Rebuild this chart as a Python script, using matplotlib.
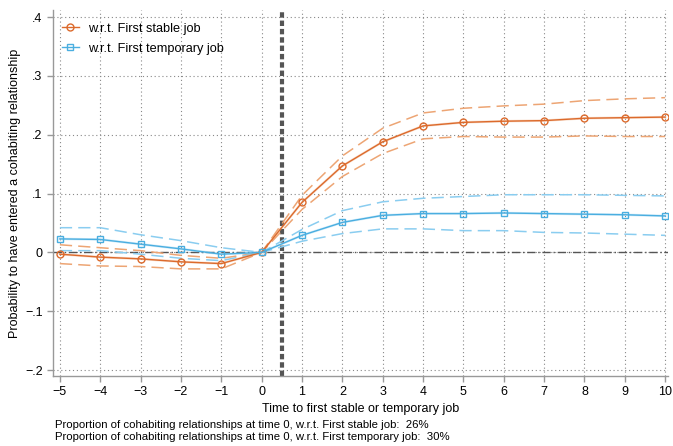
import matplotlib.pyplot as plt

plt.rcParams['font.family'] = ['Liberation Sans', 'DejaVu Sans']

# time to first job
t = [-5, -4, -3, -2, -1, 0, 1, 2, 3, 4, 5, 6, 7, 8, 9, 10]

# w.r.t. first stable job
stable = [-0.003, -0.008, -0.011, -0.016, -0.019, 0.0, 0.085, 0.147, 0.188, 0.215,
          0.221, 0.223, 0.224, 0.228, 0.229, 0.230]
stable_hi = [0.013, 0.008, 0.003, -0.005, -0.010, 0.0, 0.097, 0.164, 0.211, 0.237,
             0.245, 0.249, 0.252, 0.258, 0.261, 0.263]
stable_lo = [-0.019, -0.023, -0.024, -0.028, -0.028, 0.0, 0.073, 0.129, 0.168, 0.193,
             0.197, 0.196, 0.196, 0.198, 0.197, 0.197]

# w.r.t. first temporary job
temp = [0.023, 0.022, 0.014, 0.006, -0.003, 0.0, 0.029, 0.051, 0.063, 0.066,
        0.066, 0.067, 0.066, 0.065, 0.064, 0.062]
temp_hi = [0.042, 0.042, 0.030, 0.020, 0.008, 0.0, 0.039, 0.071, 0.086, 0.092,
           0.095, 0.098, 0.098, 0.098, 0.097, 0.096]
temp_lo = [0.003, 0.003, -0.003, -0.010, -0.014, 0.0, 0.019, 0.032, 0.040, 0.040,
           0.037, 0.037, 0.034, 0.033, 0.031, 0.029]

share_stable = 26
share_temp = 30

orange = '#DC6A2C'
orange_l = '#EDA574'
blue = '#4AAEE0'
blue_l = '#8ACDF0'

fig = plt.figure(figsize=(6.73, 4.46), dpi=100)
ax = fig.add_axes([0.0788, 0.157, 0.9138, 0.8206])

# grid
for yv in [-0.2, -0.1, 0.0, 0.1, 0.2, 0.3, 0.4]:
    ax.axhline(yv, color='#888888', lw=0.8, ls=(0, (1, 2.5)), zorder=0)
for xv in t:
    ax.axvline(xv, color='#888888', lw=0.8, ls=(0, (1, 2.5)), zorder=0)

# reference lines
ax.axhline(0, color='#555555', lw=1.0, ls=(0, (6, 2, 1, 2)), zorder=1)
ax.axvline(0.5, color='#555555', lw=3.0, ls=(0, (1.3, 0.7)), zorder=1)

# confidence bands
ax.plot(t, stable_hi, color=orange_l, lw=1.1, ls=(0, (8, 4)), zorder=2)
ax.plot(t, stable_lo, color=orange_l, lw=1.1, ls=(0, (8, 4)), zorder=2)
ax.plot(t, temp_hi, color=blue_l, lw=1.1, ls=(0, (8, 4)), zorder=2)
ax.plot(t, temp_lo, color=blue_l, lw=1.1, ls=(0, (8, 4)), zorder=2)

# point estimates
ax.plot(t, stable, color=orange_l, lw=1.8, alpha=0.35, zorder=3)
ax.plot(t, temp, color=blue_l, lw=1.8, alpha=0.35, zorder=3)
ax.plot(t, stable, color=orange, lw=1.0, marker='o', ms=5, mfc='none', mew=1.0,
        label='w.r.t. First stable job', zorder=4)
ax.plot(t, temp, color=blue, lw=1.0, marker='s', ms=4.5, mfc='none', mew=1.0,
        label='w.r.t. First temporary job', zorder=4)

ax.set_xlim(-5.17, 10.07)
ax.set_ylim(-0.21, 0.412)
ax.set_xticks(t)
ax.set_xticklabels([str(v).replace('-', '\u2212') for v in t])
yt = [-0.2, -0.1, 0.0, 0.1, 0.2, 0.3, 0.4]
ax.set_yticks(yt)
ax.set_yticklabels(['\u2212.2', '\u2212.1', '0', '.1', '.2', '.3', '.4'])

for s in ['top', 'right']:
    ax.spines[s].set_visible(False)
for s in ['left', 'bottom']:
    ax.spines[s].set_color('#999999')
    ax.spines[s].set_linewidth(1.0)
ax.tick_params(colors='#999999', labelcolor='black', labelsize=9, length=4, width=1)

ax.set_xlabel('Time to first stable or temporary job', fontsize=9, labelpad=3)
ax.set_ylabel('Probability to have entered a cohabiting relationship', fontsize=9, labelpad=3)

ax.legend(loc='upper left', frameon=False, fontsize=9.2, handlelength=1.3,
          handletextpad=0.7, borderaxespad=0.3, labelspacing=0.65,
          bbox_to_anchor=(0.0, 0.99))

fig.text(0.082, 0.047,
         'Proportion of cohabiting relationships at time 0, w.r.t. First stable job:  %d%%'
         % share_stable, fontsize=8.2, va='center')
fig.text(0.082, 0.020,
         'Proportion of cohabiting relationships at time 0, w.r.t. First temporary job:  %d%%'
         % share_temp, fontsize=8.2, va='center')

fig.savefig('out.png', dpi=100)
